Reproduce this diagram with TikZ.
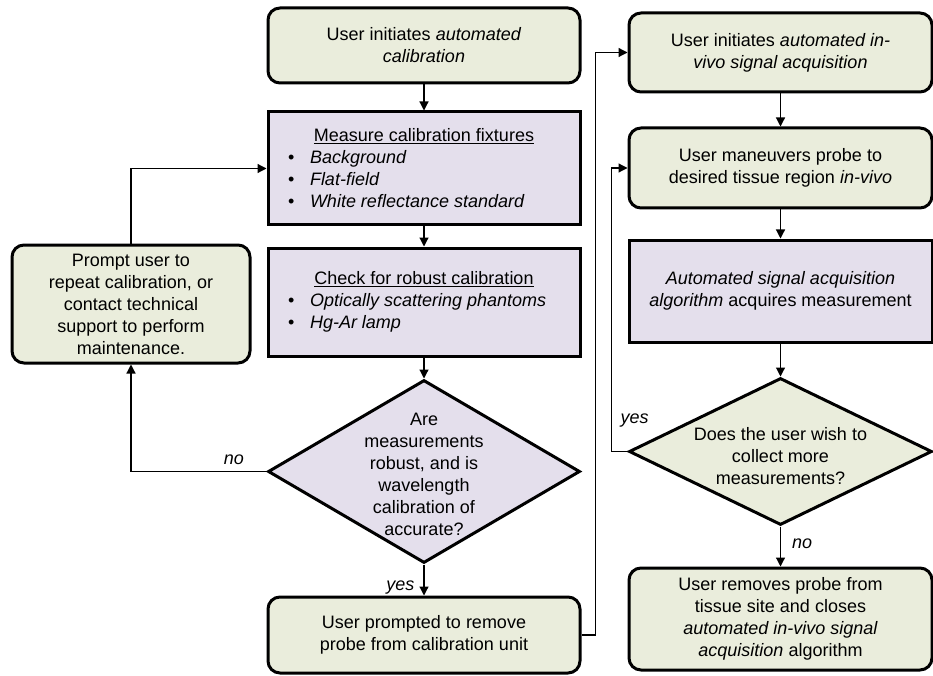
\documentclass[tikz,border=0pt]{standalone}
\usepackage{fontspec}
\setmainfont{Liberation Sans}
\usetikzlibrary{arrows.meta,shapes.geometric}
\definecolor{gfill}{HTML}{EAEDDC}
\definecolor{pfill}{HTML}{E4DFEC}
\begin{document}
\begin{tikzpicture}[x=1pt,y=-1pt,
  every node/.style={font=\fontsize{18}{22}\selectfont},
  gbox/.style={draw, line width=3pt, fill=gfill, rounded corners=12pt, inner sep=0pt, align=center},
  pbox/.style={draw, line width=3pt, fill=pfill, inner sep=0pt},
  dia/.style={draw, line width=3pt, diamond, inner sep=0pt},
  conn/.style={line width=1.2pt, -{Triangle[length=9pt,width=9pt]}},
  lab/.style={font=\fontsize{18}{22}\selectfont\itshape, inner sep=0pt},
  dtext/.style={align=center, inner sep=0pt}]
\useasboundingbox (0,0) rectangle (933,676);

% left column
\node[gbox, minimum width=312, minimum height=75] (A) at (424,45.5)
  {User initiates \textit{automated}\\\textit{calibration}};
\node[pbox, minimum width=312, minimum height=113] (B) at (424,168.5)
  {\begin{minipage}{300pt}\centering\underline{Measure calibration fixtures}\par
   \raggedright
   \hspace*{14pt}\makebox[22pt][l]{•}\textit{Background}\par
   \hspace*{14pt}\makebox[22pt][l]{•}\textit{Flat-field}\par
   \hspace*{14pt}\makebox[22pt][l]{•}\textit{White reflectance standard}\par
   \end{minipage}};
\node[pbox, minimum width=312, minimum height=108] (C) at (424,302)
  {\begin{minipage}{300pt}\centering\underline{Check for robust calibration}\par
   \raggedright
   \hspace*{14pt}\makebox[22pt][l]{•}\textit{Optically scattering phantoms}\par
   \hspace*{14pt}\makebox[22pt][l]{•}\textit{Hg-Ar lamp}\par
   \end{minipage}};
\node[dia, fill=pfill, minimum width=312, minimum height=183] (D1) at (424,471.5) {};
\node[dtext] (D1t) at (424,474) {Are\\measurements\\robust, and is\\wavelength\\calibration of\\accurate?};
\node[gbox, minimum width=312, minimum height=76] (E) at (424,635)
  {User prompted to remove\\probe from calibration unit};
\node[gbox, minimum width=238, minimum height=118] (P) at (131,304)
  {Prompt user to\\repeat calibration, or\\contact technical\\support to perform\\maintenance.};

% right column
\node[gbox, minimum width=303, minimum height=79] (F) at (780.5,52.5)
  {User initiates \textit{automated in-}\\\textit{vivo signal acquisition}};
\node[gbox, minimum width=303, minimum height=80] (G) at (780.5,168)
  {User maneuvers probe to\\desired tissue region \textit{in-vivo}};
\node[pbox, align=center, minimum width=303, minimum height=102] (H) at (780.5,291)
  {\textit{Automated signal acquisition}\\\textit{algorithm} acquires measurement};
\node[dia, fill=gfill, minimum width=303, minimum height=147] (D2) at (780.5,451.5) {};
\node[dtext] (D2t) at (780.5,456) {Does the user wish to\\collect more\\measurements?};
\node[gbox, minimum width=303, minimum height=102] (I) at (780.5,619)
  {User removes probe from\\tissue site and closes\\\textit{automated in-vivo signal}\\\textit{acquisition} algorithm};

% connectors
\draw[conn] (A.south) -- (B.north);
\draw[conn] (B.south) -- (C.north);
\draw[conn] (C.south) -- (D1.north);
\draw[conn] (D1.south) -- node[lab, pos=0.73, anchor=east, xshift=-9pt] {yes} (E.north);
\draw[conn] (D1.west) -| node[lab, pos=0.12, anchor=south, yshift=6pt] {no} (P.south);
\draw[conn] (P.north) |- (B.west);
\draw[conn] (E.east) -- ++(14,0) |- (F.west);
\draw[conn] (F.south) -- (G.north);
\draw[conn] (G.south) -- (H.north);
\draw[conn] (H.south) -- (D2.north);
\draw[conn] (D2.south) -- node[lab, pos=0.42, anchor=west, xshift=11pt] {no} (I.north);
\draw[conn] (D2.west) -- ++(-16,0) |- (G.west);
\node[lab] (yes2) at ([xshift=7pt,yshift=31pt]D2.west) {yes};
\end{tikzpicture}
\end{document}
